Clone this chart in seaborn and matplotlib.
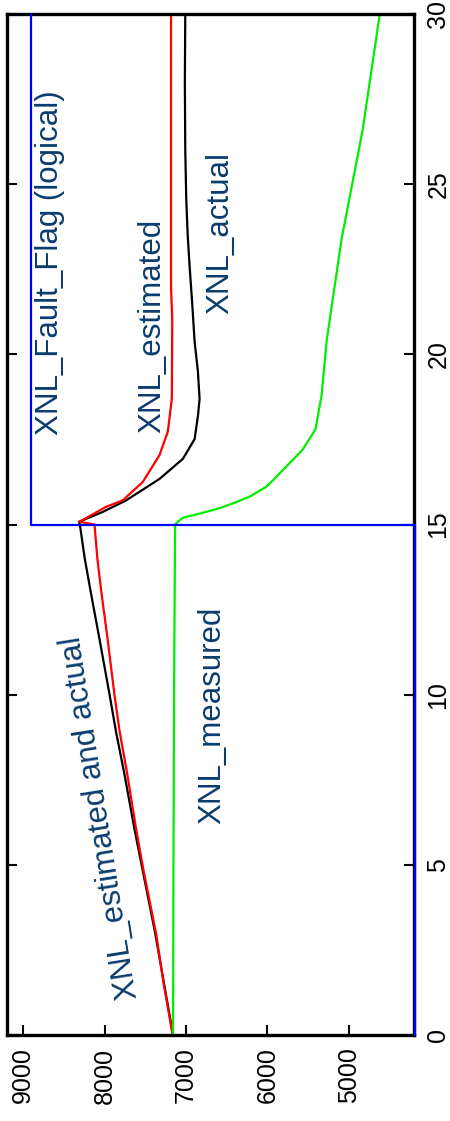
import matplotlib
matplotlib.use("Agg")
import matplotlib.pyplot as plt
import seaborn as sns

# ---- data ----
time_actual = [0, 1.5, 3, 4.8, 6, 7.7, 8.9, 10, 11.65, 13, 14, 15, 15.08, 15.37, 15.71,
               16.34, 16.93, 17.51, 18.2, 18.69, 19.5, 20.37, 21.5, 22.6, 23.5, 24.57, 26, 28, 30]
xnl_actual = [7160, 7270, 7380, 7530, 7630, 7760, 7860, 7940, 8065, 8170, 8245, 8305, 8315, 8024, 7736,
              7326, 7039, 6895, 6854, 6834, 6855, 6895, 6925, 6957, 6980, 6998, 7010, 7015, 7010]

time_est = [0, 1.5, 3, 4.8, 6, 7.7, 8.9, 10, 11.65, 13, 14, 15, 15.08, 15.52, 15.71,
            16.25, 17.04, 17.73, 18.7, 21, 22, 26, 30]
xnl_est = [7165, 7275, 7370, 7520, 7610, 7725, 7815, 7880, 7965, 8040, 8090, 8125, 8311, 7982, 7778,
           7532, 7326, 7224, 7175, 7170, 7185, 7185, 7185]

time_meas = [0, 5, 10, 15, 15.08, 15.2, 15.32, 15.45, 15.62, 15.82, 16.1, 16.3, 16.75,
             17.2, 17.8, 18.8, 20.4, 23.4, 26.6, 30]
xnl_meas = [7160, 7155, 7148, 7135, 7100, 7039, 6834, 6629, 6424, 6219, 6020, 5932, 5750,
            5568, 5410, 5335, 5273, 5089, 4830, 4621]

time_flag = [0, 15, 15, 30]
fault_flag = [0, 0, 1, 1]

value_ticks = [9000, 8000, 7000, 6000, 5000]
time_ticks = [0, 5, 10, 15, 20, 25, 30]

labels = ["XNL_Fault_Flag (logical)", "XNL_estimated", "XNL_actual",
          "XNL_measured", "XNL_estimated and actual"]

# ---- style ----
sns.set_theme(style="white")
plt.rcParams['font.family'] = ['Liberation Sans', 'DejaVu Sans']

fig = plt.figure(figsize=(4.5, 11.21), dpi=100)
ax = fig.add_axes([7 / 450, 86 / 1121, 407 / 450, 1021 / 1121])

kw = dict(estimator=None, sort=False, linewidth=1.6, ax=ax)
sns.lineplot(x=xnl_actual, y=time_actual, color='black', **kw)
sns.lineplot(x=xnl_est, y=time_est, color='#ff0000', **kw)
sns.lineplot(x=xnl_meas, y=time_meas, color='#00ee00', **kw)

ax.set_xlim(9200, 4200)
ax.set_ylim(0, 30)
ax.set_xticks(value_ticks)
ax.set_xticklabels([str(v) for v in value_ticks])
ax.set_yticks(time_ticks)
ax.set_yticklabels([str(t) for t in time_ticks])
ax.set_xlabel('')
ax.set_ylabel('')

ax.tick_params(axis='x', direction='in', top=True, bottom=True, length=7.5, width=1.5,
               labelsize=18, pad=9, labelrotation=90, colors='black')
ax.tick_params(axis='y', direction='in', left=True, right=True, labelleft=False,
               labelright=True, length=7.5, width=1.5, labelsize=18, pad=9,
               labelrotation=90, colors='black')
for lab in ax.get_yticklabels():
    lab.set_va('center')
for sp in ax.spines.values():
    sp.set_color('black')
    sp.set_linewidth(2.4)

# fault flag on its own (logical) scale
ax2 = ax.twiny()
sns.lineplot(x=fault_flag, y=time_flag, color='#0000ff', estimator=None, sort=False,
             linewidth=1.6, ax=ax2)
ax2.set_xlim(1.0624, 0.0039)
ax2.set_ylim(0, 30)
ax2.set_xticks([])
ax2.set_xlabel('')
for sp in ax2.spines.values():
    sp.set_visible(False)
for ln in ax2.lines:
    ln.set_clip_on(False)

txt_color = '#0b3c6e'
tkw = dict(color=txt_color, fontsize=22.5, ha='center', va='center')
ax.text(8672, 22.7, labels[0], rotation=90, **tkw)
ax.text(7419, 20.83, labels[1], rotation=90, **tkw)
ax.text(6583, 23.57, labels[2], rotation=90, **tkw)
ax.text(6682, 9.40, labels[3], rotation=90, **tkw)
ax.text(8057, 6.38, labels[4], rotation=99, **tkw)

fig.savefig("out.png", dpi=100)
